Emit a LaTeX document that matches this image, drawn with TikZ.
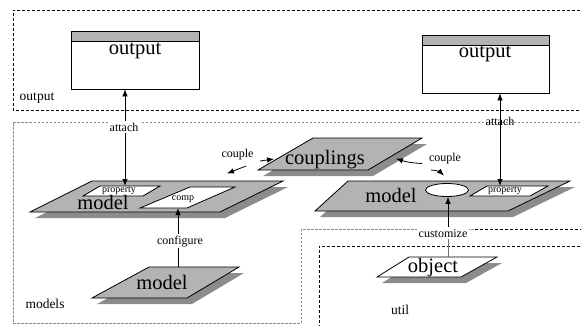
\documentclass[tikz,border=0pt]{standalone}
\usepackage{fontspec}
\setmainfont{Liberation Serif}
\usetikzlibrary{arrows.meta,shapes.geometric}
\definecolor{slabgray}{HTML}{B3B3B3}
\definecolor{shadegray}{HTML}{8C8C8C}
\definecolor{pkggray}{HTML}{8A8A8A}
\definecolor{linegray}{HTML}{707070}
\tikzset{
  pkg/.style={dash pattern=on 3pt off 2pt, line width=0.8pt},
  pkgsoft/.style={pkg, draw=pkggray, line width=0.6pt, dash pattern=on 2.5pt off 1.5pt},
  big/.style={font=\fontsize{20.5}{22}\selectfont, inner sep=0pt, anchor=base},
  lbl/.style={font=\fontsize{12}{13}\selectfont, inner sep=1.5pt, anchor=base},
  small/.style={font=\fontsize{10}{11}\selectfont, inner sep=0pt, anchor=base},
  pkglbl/.style={font=\fontsize{13.5}{15}\selectfont, inner sep=0pt, anchor=base},
  arr/.style={-{Latex[length=7pt,width=5.5pt]}, line width=0.8pt},
  dblarr/.style={{Latex[length=7pt,width=5.5pt]}-{Latex[length=7pt,width=5.5pt]}, line width=0.8pt},
  outbox/.style={draw, line width=0.8pt, inner sep=0pt,
    path picture={
      \fill[slabgray] (path picture bounding box.north west) rectangle ([yshift=-10.5pt]path picture bounding box.north east);
      \draw[line width=0.6pt] ([yshift=-10.5pt]path picture bounding box.north west) -- ([yshift=-10.5pt]path picture bounding box.north east);}},
  slabline/.style={line width=0.8pt},
}
% slanted slab with a drop shadow: fill, then the four corners
\newcommand\slabshape[5]{%
  \fill[shadegray, shift={(5,6)}] #2 -- #3 -- #4 -- #5 -- cycle;
  \filldraw[fill=#1, draw=black, slabline] #2 -- #3 -- #4 -- #5 -- cycle;}
% flat inset (no shadow)
\newcommand\inset[4]{%
  \filldraw[fill=white, draw=black, slabline] #1 -- #2 -- #3 -- #4 -- cycle;}
\begin{document}
\begin{tikzpicture}[x=1pt,y=-1pt]
\useasboundingbox (0,0) rectangle (581,325);
\fill[white] (0,0) rectangle (581,325);

% ---- package outlines
\draw[pkg] (600,10) -- (13,10) -- (13,110) -- (600,110);
\draw[pkgsoft] (600,122) -- (13,122) -- (13,323) -- (301,323) -- (301,229) -- (475,229);
\draw[pkg, line width=0.6pt] (475,229) -- (600,229);
\draw[pkg] (600,246) -- (319,246) -- (319,340);

\node[pkglbl] (pkgOut) at (37,100.5) {output};
\node[pkglbl] (pkgModels) at (45,308) {models};
\node[pkglbl] (pkgUtil) at (400,314) {util};

% ---- output windows
\node[outbox, minimum width=128pt, minimum height=58pt] (outL) at (135,60) {};
\node[big] (outLtxt) at (135,54) {output};
\node[outbox, minimum width=127pt, minimum height=58pt] (outR) at (485.5,64) {};
\node[big] (outRtxt) at (485,57.5) {output};

% ---- slabs
\slabshape{slabgray}{(258,170)}{(368,170)}{(422,138)}{(313,138)}
\node[big] (couplings) at (325,164) {couplings};

\slabshape{slabgray}{(30,212)}{(220,212)}{(283,181)}{(92,181)}
\inset{(83,196)}{(143,196)}{(160,186)}{(100,186)}
\inset{(140,208)}{(187,208)}{(235,187)}{(190,187)}
\node[small] (propL) at (119,192.5) {property};
\node[small] (comp) at (183,200) {comp};
\node[big] (modelL) at (103,209) {model};

\slabshape{slabgray}{(92,298)}{(187,298)}{(239,267)}{(149,267)}
\node[big] (modelB) at (162,289) {model};

\slabshape{slabgray}{(315,211)}{(508,211)}{(570,181)}{(348,181)}
\inset{(470,196)}{(530,196)}{(548,186)}{(487,186)}
\node[small] (propR) at (505,192.5) {property};
\node[draw, ellipse, fill=white, line width=0.8pt, minimum width=43pt, minimum height=13pt, inner sep=0pt] (ell) at (447,190) {};
\node[big] (modelR) at (391,202) {model};

\slabshape{white}{(377,277)}{(461,277)}{(497,257)}{(409,257)}
\node[big] (object) at (433,272) {object};

% ---- anchor points on slab edges
\coordinate (propLtop) at (125,186);
\coordinate (compBot) at (178,208);
\coordinate (modelBtop) at (178,267);
\coordinate (propRtop) at (500,186);
\coordinate (objTop) at (448,257);
\coordinate (cplLtip) at (274,159);
\coordinate (cplLtail) at (260,161);
\coordinate (mdlLtip) at (227,173.5);
\coordinate (mdlLtail) at (246,166);
\coordinate (cplRtip) at (396,158.5);
\coordinate (cplRtail) at (422,163.5);
\coordinate (mdlRtip) at (444,175.5);
\coordinate (mdlRtail) at (431,170);

% ---- attach (left)
\node[lbl, fill=white] (attL) at (124,131) {attach};
\draw[arr] (attL.north -| propLtop) -- (propLtop |- outL.south);
\draw[arr] (attL.south -| propLtop) -- (propLtop);

% ---- attach (right)
\node[lbl] (attR) at (500,125.5) {attach};
\draw[dblarr] (propRtop |- outR.south) -- (propRtop);

% ---- configure
\node[lbl, fill=white] (cfg) at (180,244) {configure};
\draw[slabline] (modelBtop) -- (modelBtop |- cfg.south);
\draw[arr] (compBot |- cfg.north) -- (compBot);

% ---- customize
\node[lbl, fill=white] (cust) at (443,237) {customize};
\draw[linegray, line width=0.9pt] (objTop) -- (objTop |- cust.south);
\draw[arr] (cust.north -| objTop) -- (ell.south -| objTop);

% ---- couple
\node[lbl] (cplL) at (237.5,157) {couple};
\draw[arr] (cplLtail) -- (cplLtip);
\draw[arr] (mdlLtail) -- (mdlLtip);
\node[lbl] (cplR) at (445,161.5) {couple};
\draw[arr] (cplRtail) to[bend left=8] (cplRtip);
\draw[arr] (mdlRtail) to[bend left=20] (mdlRtip);
\end{tikzpicture}
\end{document}
